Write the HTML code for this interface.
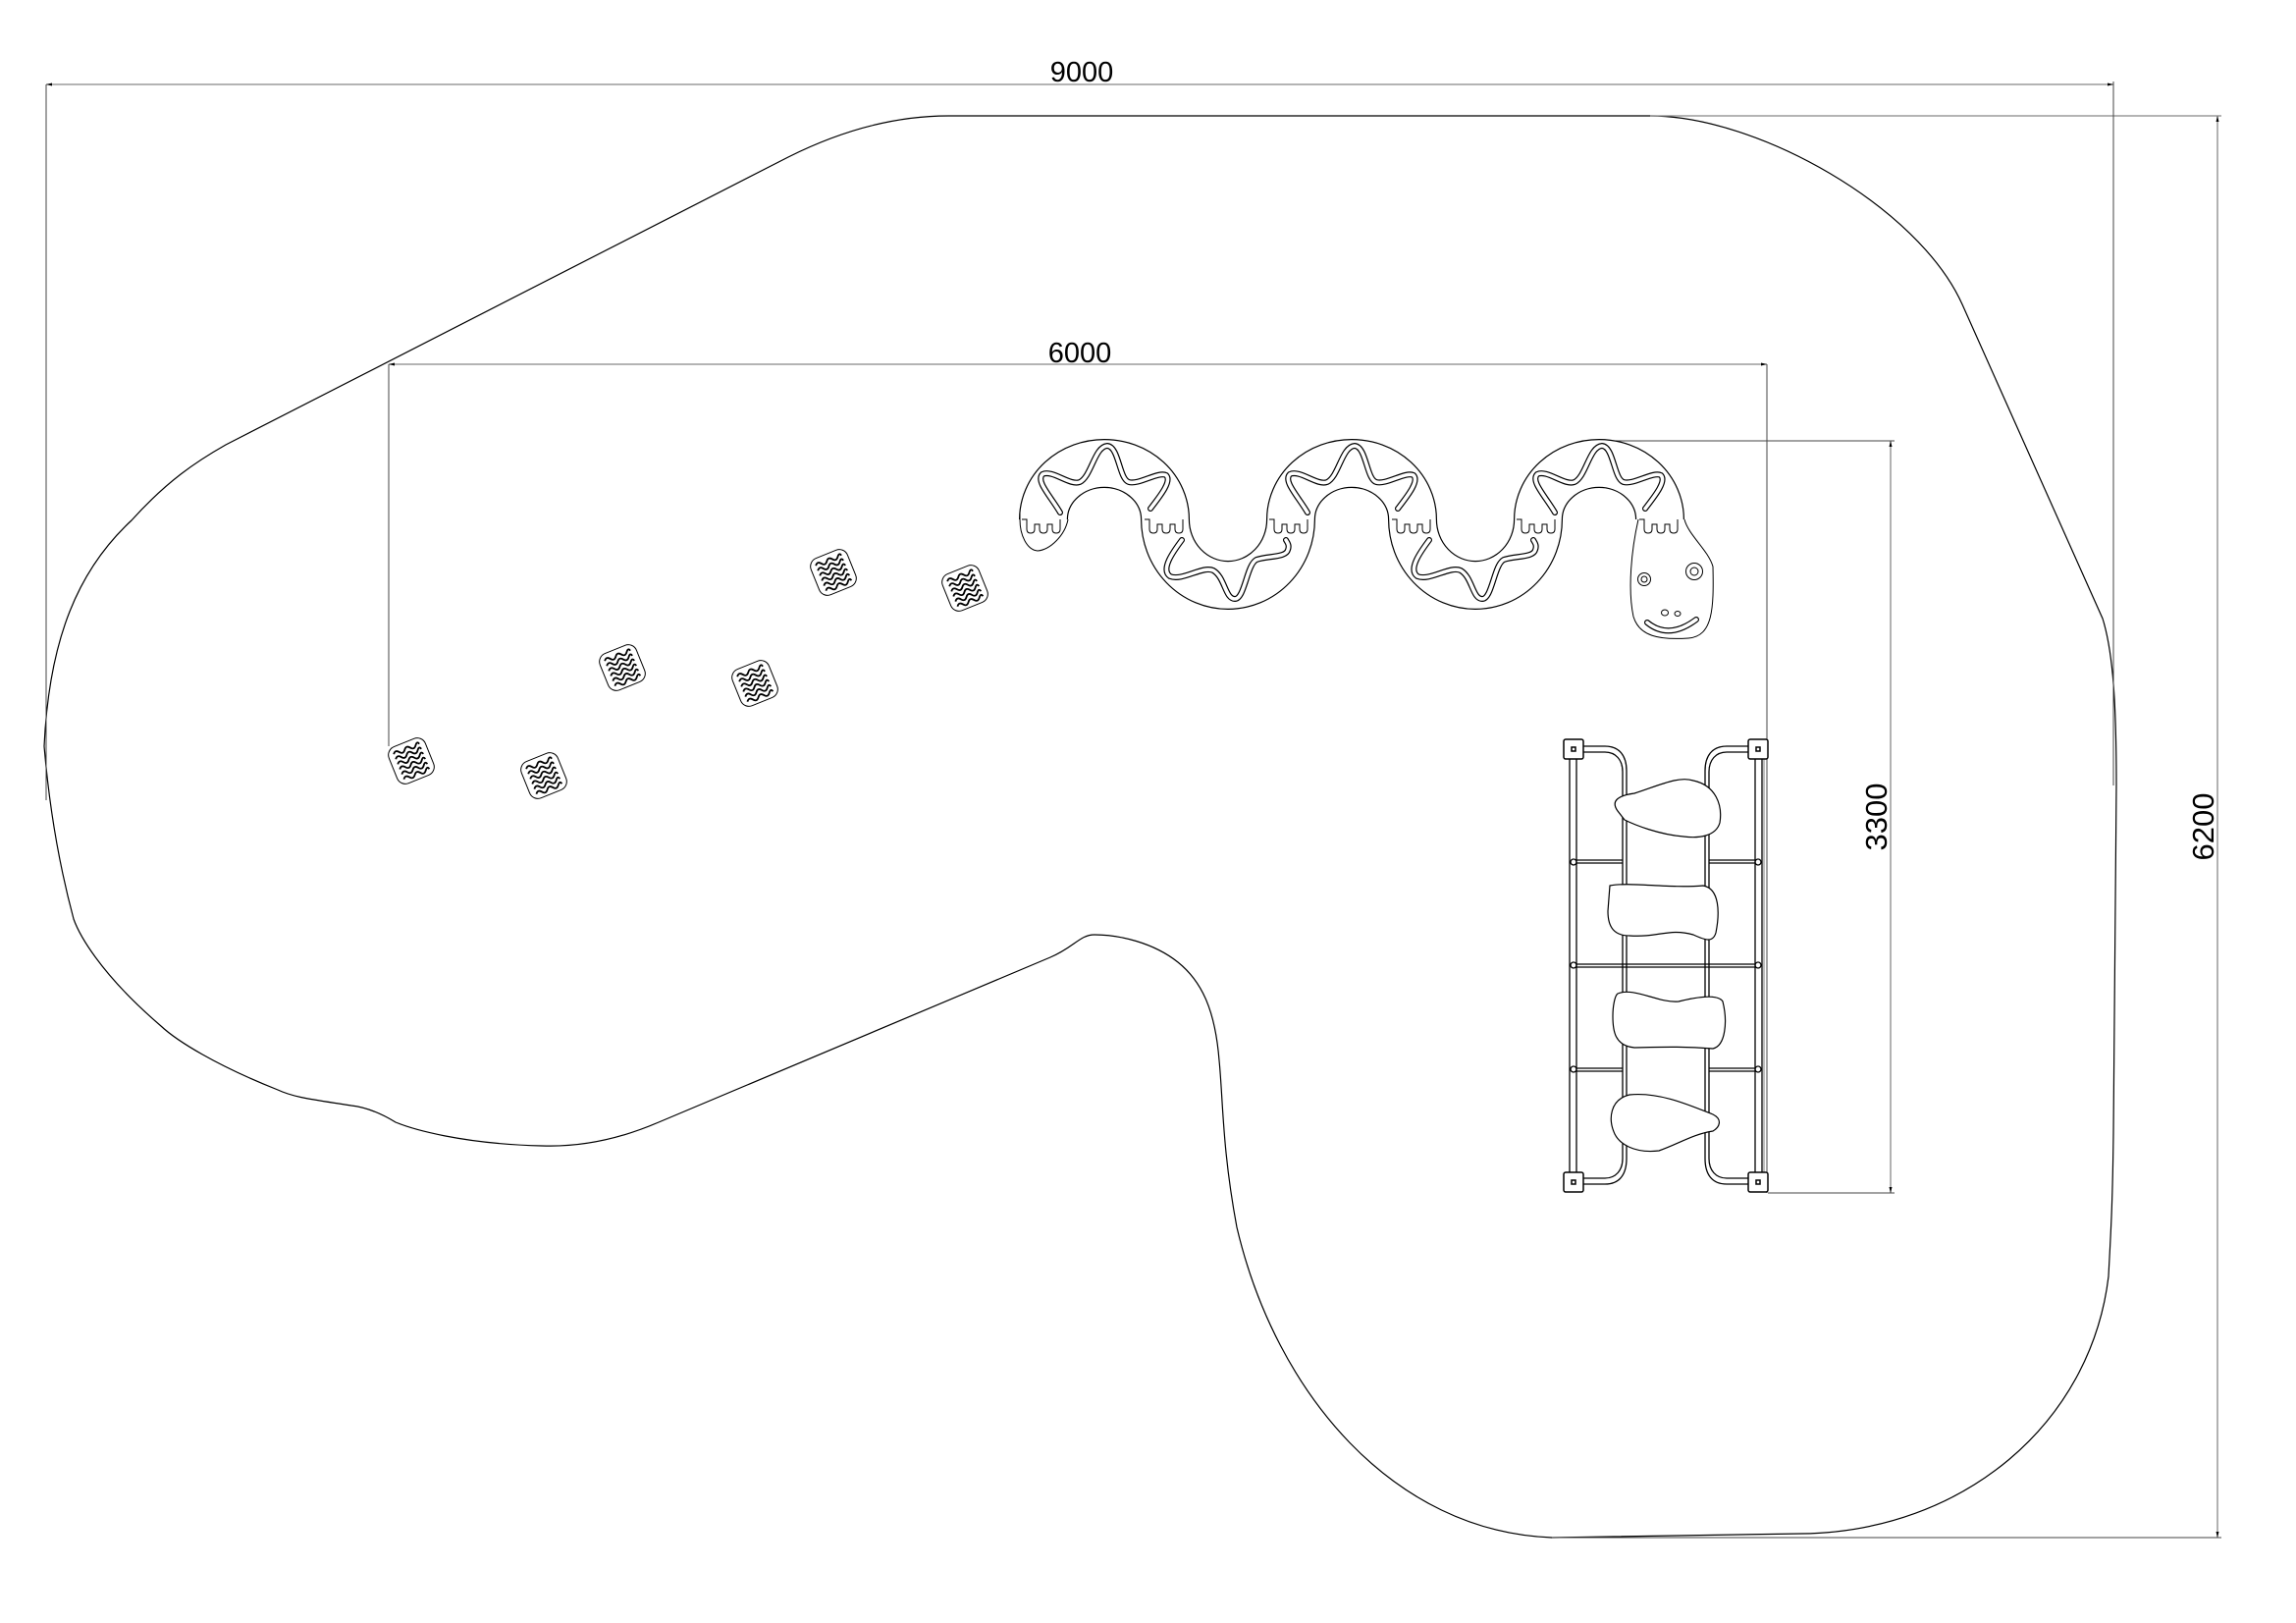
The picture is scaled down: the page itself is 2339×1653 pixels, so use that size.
<!DOCTYPE html>
<html><head><meta charset="utf-8"><style>
html,body{margin:0;padding:0;background:#fff;}
svg{display:block;}
text{font-family:"Liberation Sans",sans-serif;fill:#000;}
</style></head><body>
<svg width="2339" height="1653" viewBox="0 0 2339 1653" xmlns="http://www.w3.org/2000/svg">
<defs>
<g id="stone">
<rect x="-20" y="-20" width="40" height="40" rx="9" fill="#fff" stroke="#000" stroke-width="1"/>
<g fill="none" stroke="#000" stroke-width="1.8">
<path d="M-14,-13 q3,-4 6,0 t6,0 t6,0 t6,0 t4,0"/>
<path d="M-14,-7.5 q3,-4 6,0 t6,0 t6,0 t6,0 t4,0"/>
<path d="M-14,-2 q3,-4 6,0 t6,0 t6,0 t6,0 t4,0"/>
<path d="M-14,3.5 q3,-4 6,0 t6,0 t6,0 t6,0 t4,0"/>
<path d="M-14,9 q3,-4 6,0 t6,0 t6,0 t6,0 t4,0"/>
<path d="M-14,14.5 q3,-4 6,0 t6,0 t6,0 t6,0 t4,0"/>
</g>
</g>
<g id="teeth" fill="none" stroke="#000" stroke-width="1">
<path d="M-22,0 h5 v10 q0,4 4,4 q4,0 4,-4 v-5 h5 v5 q0,4 4,4 q4,0 4,-4 v-5 h5 v5 q0,4 4,4 q4,0 4,-4 v-10"/>
</g>
<path id="zt" d="M1080,522 C1070,505 1055,490 1062,483 C1072,478 1090,495 1100,491 C1112,485 1115,455 1128,454 C1140,455 1140,488 1150,491 C1160,494 1180,480 1188,484 C1194,490 1182,505 1172,518"/>
<path id="zb" d="M1204,550 C1195,562 1182,580 1192,587 C1205,592 1225,576 1236,581 C1248,588 1248,610 1258,610 C1268,610 1270,575 1280,570 C1292,566 1310,568 1312,560 C1314,555 1311,552 1310,550"/>
</defs>

<!-- ground outline -->
<path fill="none" stroke="#000" stroke-width="1.2" d="
M966,118 L1681,118
C1790,118 1954,210 1999,310
L2142,630
C2153,665 2156,720 2156,800
L2153,1154
C2152,1235 2150,1260 2148,1300
C2130,1450 2000,1560 1835,1562
L1581,1566
C1420,1560 1300,1420 1260,1250
C1245,1170 1246,1120 1242,1080
C1238,1030 1225,1000 1200,980
C1175,960 1140,952 1115,952
C1100,952 1094,965 1070,975
L671,1143
C620,1165 580,1168 552,1167
C470,1165 420,1150 403,1143
C390,1135 375,1128 358,1126
C320,1120 300,1118 283,1110
C220,1085 180,1060 164,1045
C100,990 80,950 75,936
C60,880 50,820 45,760
C50,650 80,580 134,530
C170,490 200,470 230,453
L803,160
C843,140 900,118 966,118 Z"/>

<!-- dimension lines -->
<g stroke="#888" stroke-width="1.3" fill="none">
<line x1="47" y1="86" x2="2153" y2="86"/>
<line x1="396" y1="371" x2="1800" y2="371"/>
<line x1="2259" y1="118" x2="2259" y2="1566"/>
<line x1="1926" y1="449" x2="1926" y2="1215"/>
<line x1="1681" y1="118" x2="2263" y2="118"/>
</g>
<g stroke="#444" stroke-width="1" fill="none">
<line x1="47" y1="86" x2="47" y2="815"/>
<line x1="2153" y1="83" x2="2153" y2="800"/>
<line x1="396" y1="371" x2="396" y2="760"/>
<line x1="1800" y1="371" x2="1800" y2="1215"/>
<line x1="1628" y1="449" x2="1930" y2="449"/>
<line x1="1801" y1="1215" x2="1930" y2="1215"/>
<line x1="1581" y1="1566" x2="2263" y2="1566"/>
</g>
<g fill="#000">
<path d="M47,86 l6,-1.5 v3 z"/><path d="M2153,86 l-6,-1.5 v3 z"/>
<path d="M396,371 l6,-1.5 v3 z"/><path d="M1800,371 l-6,-1.5 v3 z"/>
<path d="M2259,118 l-1.5,6 h3 z"/><path d="M2259,1566 l-1.5,-6 h3 z"/>
<path d="M1926,449 l-1.5,6 h3 z"/><path d="M1926,1215 l-1.5,-6 h3 z"/>
</g>
<text x="1102" y="83" font-size="29" text-anchor="middle">9000</text>
<text x="1100" y="369" font-size="29" text-anchor="middle">6000</text>
<text transform="translate(1922,832) rotate(-90)" font-size="31" text-anchor="middle">3300</text>
<text transform="translate(2255,842) rotate(-90)" font-size="31" text-anchor="middle">6200</text>

<!-- stones -->
<use href="#stone" transform="translate(419,775) rotate(-22)"/>
<use href="#stone" transform="translate(554,790) rotate(-22)"/>
<use href="#stone" transform="translate(634,680) rotate(-22)"/>
<use href="#stone" transform="translate(769,696) rotate(-22)"/>
<use href="#stone" transform="translate(849,583) rotate(-22)"/>
<use href="#stone" transform="translate(983,599) rotate(-22)"/>

<!-- snake body -->
<path fill="none" stroke="#000" stroke-width="50" d="M1063,529 A62,57 0 0 1 1187,529 A64,67 0 0 0 1315,529 A62,57 0 0 1 1439,529 A64,67 0 0 0 1567,529 A62,57 0 0 1 1691,529"/>
<path fill="none" stroke="#fff" stroke-width="47.6" d="M1063,529 A62,57 0 0 1 1187,529 A64,67 0 0 0 1315,529 A62,57 0 0 1 1439,529 A64,67 0 0 0 1567,529 A62,57 0 0 1 1691,529"/>
<!-- tail -->
<path fill="#fff" stroke="#000" stroke-width="1" d="M1039,529 C1039,545 1046,560 1057,561 C1070,560 1085,545 1088,529"/>
<line x1="1039" y1="520" x2="1039" y2="530" stroke="#000"/>
<!-- head -->
<path fill="#fff" stroke="#000" stroke-width="1" d="M1669,529 C1662,560 1658,600 1664,628 C1670,648 1690,652 1720,650 C1745,648 1746,620 1745,577 C1740,560 1720,545 1716,529"/>
<circle cx="1675" cy="590" r="6.5" fill="none" stroke="#000"/>
<circle cx="1675" cy="590" r="3" fill="none" stroke="#000"/>
<circle cx="1726" cy="582" r="8.5" fill="none" stroke="#000"/>
<circle cx="1726" cy="582" r="4" fill="none" stroke="#000"/>
<ellipse cx="1696" cy="624" rx="3.5" ry="3" fill="none" stroke="#000"/>
<ellipse cx="1709" cy="625" rx="3" ry="2.5" fill="none" stroke="#000"/>
<path fill="none" stroke="#000" stroke-width="6" stroke-linecap="round" d="M1678,634 Q1700,652 1728,631"/>
<path fill="none" stroke="#fff" stroke-width="3.6" stroke-linecap="round" d="M1678,634 Q1700,652 1728,631"/>

<!-- zigzag stripes -->
<g fill="none" stroke-linecap="round" stroke="#000" stroke-width="6">
<use href="#zt"/><use href="#zt" transform="translate(252,0)"/><use href="#zt" transform="translate(504,0)"/>
<use href="#zb"/><use href="#zb" transform="translate(252,0)"/>
</g>
<g fill="none" stroke-linecap="round" stroke="#fff" stroke-width="3.6">
<use href="#zt"/><use href="#zt" transform="translate(252,0)"/><use href="#zt" transform="translate(504,0)"/>
<use href="#zb"/><use href="#zb" transform="translate(252,0)"/>
</g>
<!-- joints -->
<use href="#teeth" transform="translate(1063,529)"/>
<use href="#teeth" transform="translate(1188,529)"/>
<use href="#teeth" transform="translate(1315,529)"/>
<use href="#teeth" transform="translate(1440,529)"/>
<use href="#teeth" transform="translate(1567,529)"/>
<use href="#teeth" transform="translate(1692,529)"/>

<!-- ladder -->
<g fill="none" stroke="#000" stroke-width="1.3">
<line x1="1599" y1="773" x2="1599" y2="1194"/><line x1="1606" y1="773" x2="1606" y2="1194"/>
<line x1="1788" y1="773" x2="1788" y2="1194"/><line x1="1795" y1="773" x2="1795" y2="1194"/>
<line x1="1797" y1="773" x2="1797" y2="1194" stroke="#999"/>
<path d="M1613,760 H1635 C1650,760 1657,770 1657,785 V1180 C1657,1196 1650,1206 1635,1206 H1613"/>
<path d="M1613,766 H1635 C1646,766 1653,774 1653,786 V1180 C1653,1192 1646,1200 1635,1200 H1613"/>
<path d="M1781,760 H1759 C1744,760 1737,770 1737,785 V1180 C1737,1196 1744,1206 1759,1206 H1781"/>
<path d="M1781,766 H1759 C1748,766 1741,774 1741,786 V1180 C1741,1192 1748,1200 1759,1200 H1781"/>
<line x1="1606" y1="876" x2="1653" y2="876"/><line x1="1606" y1="879" x2="1653" y2="879"/>
<line x1="1741" y1="876" x2="1788" y2="876"/><line x1="1741" y1="879" x2="1788" y2="879"/>
<line x1="1606" y1="982" x2="1788" y2="982"/><line x1="1606" y1="985" x2="1788" y2="985"/>
<line x1="1606" y1="1088" x2="1653" y2="1088"/><line x1="1606" y1="1091" x2="1653" y2="1091"/>
<line x1="1741" y1="1088" x2="1788" y2="1088"/><line x1="1741" y1="1091" x2="1788" y2="1091"/>
<circle cx="1603" cy="878" r="3"/><circle cx="1791" cy="878" r="3"/>
<circle cx="1603" cy="983" r="3"/><circle cx="1791" cy="983" r="3"/>
<circle cx="1603" cy="1089" r="3"/><circle cx="1791" cy="1089" r="3"/>
</g>
<g fill="#fff" stroke="#000" stroke-width="1.5">
<rect x="1593" y="753" width="20" height="20" rx="2"/><rect x="1781" y="753" width="20" height="20" rx="2"/>
<rect x="1593" y="1194" width="20" height="20" rx="2"/><rect x="1781" y="1194" width="20" height="20" rx="2"/>
<rect x="1601" y="761" width="4" height="4"/><rect x="1789" y="761" width="4" height="4"/>
<rect x="1601" y="1202" width="4" height="4"/><rect x="1789" y="1202" width="4" height="4"/>
</g>
<g fill="#fff" stroke="#000" stroke-width="1.2">
<path d="M1648,826 C1640,815 1650,810 1665,808 C1690,800 1710,790 1725,795 C1748,800 1755,820 1752,838 C1748,852 1730,854 1715,852 C1690,850 1665,840 1655,835 Z"/>
<path d="M1640,902 C1660,898 1700,905 1735,902 C1752,905 1752,930 1748,950 C1745,960 1738,958 1725,952 C1700,945 1690,955 1660,953 C1645,953 1638,945 1638,928 Z"/>
<path d="M1648,1012 C1665,1005 1690,1022 1710,1020 C1730,1015 1750,1012 1755,1020 C1760,1040 1758,1065 1745,1068 C1720,1066 1700,1066 1665,1067 C1645,1065 1643,1050 1643,1035 C1643,1025 1645,1014 1648,1012 Z"/>
<path d="M1645,1155 C1638,1140 1640,1120 1660,1115 C1690,1112 1720,1125 1745,1135 C1755,1140 1752,1148 1745,1152 C1725,1155 1710,1165 1690,1172 C1665,1175 1650,1165 1645,1155 Z"/>
</g>
</svg>
</body></html>
